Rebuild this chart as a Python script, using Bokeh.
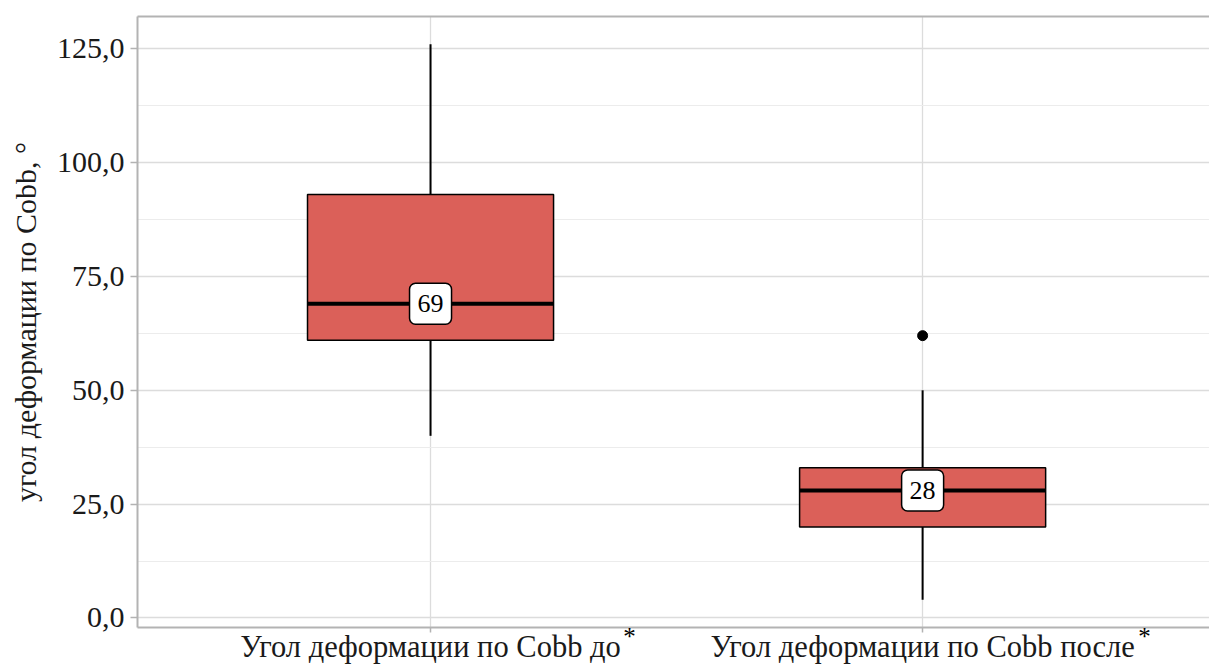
from bokeh.plotting import figure
from bokeh.models import Range1d, FixedTicker, LinearAxis
from bokeh.core.properties import value
from bokeh.embed import file_html
from bokeh.resources import INLINE

# ---- data ----
categories = ["Угол деформации по Cobb до", "Угол деформации по Cobb после"]
q1 = [61, 20]
medians = [69, 28]
q3 = [93, 33]
whisker_low = [40, 4]
whisker_high = [126, 50]
outlier_group = [2]
outlier_value = [62]
y_ticks = [0, 25, 50, 75, 100, 125]
y_minor = [12.5, 37.5, 62.5, 87.5, 112.5]
y_tick_labels = ["0,0", "25,0", "50,0", "75,0", "100,0", "125,0"]
y_title = "угол деформации по Cobb, °"
footnote_marks = ["*", "*"]

FONT = "Liberation Serif"
BOX_W = 0.5
xs = list(range(1, len(categories) + 1))

p = figure(width=1209, height=666, output_backend="svg", toolbar_location=None,
           x_range=Range1d(0.4045, 2.583), y_range=Range1d(-2.1, 132.1),
           min_border_left=137, min_border_right=0, min_border_top=16, min_border_bottom=39,
           background_fill_color="white", border_fill_color="white")
p.outline_line_color = None

# grids
p.ygrid.ticker = FixedTicker(ticks=y_ticks, minor_ticks=y_minor)
p.ygrid.grid_line_color = "#dcdcdc"
p.ygrid.grid_line_width = 1.3
p.ygrid.minor_grid_line_color = "#ececec"
p.ygrid.minor_grid_line_width = 1.2
p.xgrid.ticker = FixedTicker(ticks=xs)
p.xgrid.grid_line_color = "#dcdcdc"
p.xgrid.grid_line_width = 1.3

# axes
for ax in (p.xaxis[0], p.yaxis[0]):
    ax.axis_line_color = "#b3b3b3"
    ax.axis_line_width = 2
    ax.major_tick_line_color = "#b3b3b3"
    ax.major_tick_line_width = 1.5
    ax.major_tick_in = 0
    ax.minor_tick_line_color = None
    ax.major_label_text_font = FONT
    ax.major_label_text_color = "#1a1a1a"

p.yaxis.major_tick_out = 7
p.yaxis.major_label_text_font_size = "30px"
p.yaxis.ticker = FixedTicker(ticks=y_ticks)
p.yaxis.major_label_overrides = {t: l for t, l in zip(y_ticks, y_tick_labels)}
p.yaxis.major_label_standoff = 6
p.yaxis.axis_label = y_title
p.yaxis.axis_label_text_font = FONT
p.yaxis.axis_label_text_font_size = "30px"
p.yaxis.axis_label_text_font_style = "normal"
p.yaxis.axis_label_text_color = "#1a1a1a"
p.yaxis.axis_label_standoff = 12

p.xaxis.major_tick_out = 5
p.xaxis.major_label_text_font_size = "30.5px"
p.xaxis.ticker = FixedTicker(ticks=xs)
p.xaxis.major_label_overrides = {x: c for x, c in zip(xs, categories)}
p.xaxis.major_label_standoff = -3

top_axis = LinearAxis(axis_line_color="#b3b3b3", axis_line_width=2,
                      major_tick_line_color=None, minor_tick_line_color=None,
                      major_label_text_font_size="0px", ticker=FixedTicker(ticks=[]))
p.add_layout(top_axis, "above")

# whiskers
p.segment(x0=xs, y0=q3, x1=xs, y1=whisker_high, line_color="black", line_width=2)
p.segment(x0=xs, y0=q1, x1=xs, y1=whisker_low, line_color="black", line_width=2)

# boxes
p.vbar(x=xs, width=BOX_W, bottom=q1, top=q3, fill_color="#DB6059",
       line_color="black", line_width=1.5)

# medians
p.segment(x0=[x - BOX_W / 2 for x in xs], y0=medians,
          x1=[x + BOX_W / 2 for x in xs], y1=medians,
          line_color="black", line_width=4)

# outliers
p.scatter(x=outlier_group, y=outlier_value, size=10, color="black")

# median labels
p.text(x=xs, y=medians, text=[str(m) for m in medians],
       text_align="center", text_baseline="middle",
       text_font=value(FONT), text_font_size="26px", text_color="black",
       background_fill_color="white", border_line_color="black",
       border_line_width=1.5, padding=dict(x=8, y=12), border_radius=6)

# footnote asterisks on category labels (drawn outside the frame)
p.text(x=xs, y=[-2.1] * len(xs), text=footnote_marks,
       x_offset=[199, 222], y_offset=9,
       text_align="center", text_baseline="middle",
       text_font=value(FONT), text_font_size="25px", text_color="black",
       level="annotation")

open("out.html", "w").write(file_html(p, INLINE))
